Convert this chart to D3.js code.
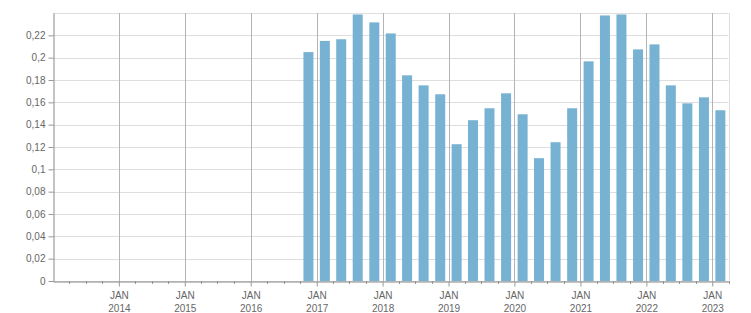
<!DOCTYPE html>
<html><head><meta charset="utf-8">
<script src="https://cdn.jsdelivr.net/npm/d3@7"></script>
<style>
html,body{margin:0;padding:0;background:#fff;}
svg{display:block;}
text{font-family:"Liberation Sans",Arial,sans-serif;font-size:10px;fill:#666;}
</style></head>
<body>
<svg id="chart" width="751" height="313"></svg>
<script>
// quarter start dates (YYYY-MM)
const quarters = ["2016-10","2017-01","2017-04","2017-07","2017-10","2018-01","2018-04","2018-07","2018-10",
  "2019-01","2019-04","2019-07","2019-10","2020-01","2020-04","2020-07","2020-10","2021-01","2021-04","2021-07",
  "2021-10","2022-01","2022-04","2022-07","2022-10","2023-01"];
const values = [0.205,0.215,0.2165,0.2387,0.2316,0.2217,0.1842,0.1752,0.1672,
  0.1225,0.144,0.1547,0.1681,0.1493,0.110,0.1243,0.1547,0.1967,0.2378,0.2387,
  0.2074,0.2119,0.1752,0.1591,0.1645,0.1529];
const yTicks = [0,0.02,0.04,0.06,0.08,0.1,0.12,0.14,0.16,0.18,0.2,0.22];
const xDomain = ["2013-01-01","2023-04-01"];
const yDomain = [0,0.24];

const parse = d3.timeParse("%Y-%m");
const data = quarters.map((q,i)=>({start:parse(q), end:d3.timeMonth.offset(parse(q),3), v:values[i]}));

const svg = d3.select("#chart");
const m = {l:53, r:751-728.5, t:13, b:313-281};
const W = 751, H = 313;
const x = d3.scaleTime().domain(xDomain.map(d=>new Date(d+"T00:00:00"))).range([m.l, W-m.r]);
const y = d3.scaleLinear().domain(yDomain).range([H-m.b, m.t]);
const fmt = v => String(+v.toFixed(2)).replace(".", ",");

// horizontal gridlines
svg.append("g").selectAll("line").data(yTicks.concat([0.24])).join("line")
  .attr("x1", m.l).attr("x2", W-m.r)
  .attr("y1", d=>Math.round(y(d))+0.5).attr("y2", d=>Math.round(y(d))+0.5)
  .attr("stroke", "#dedede").attr("stroke-width",1);
// right border
svg.append("line").attr("x1", Math.round(W-m.r)+0.5).attr("x2", Math.round(W-m.r)+0.5)
  .attr("y1", m.t).attr("y2", H-m.b).attr("stroke","#dedede");

// vertical year gridlines
const years = x.ticks(d3.timeYear.every(1)).filter(d=>x(d)>m.l+1);
svg.append("g").selectAll("line").data(years).join("line")
  .attr("x1", d=>Math.round(x(d))+0.5).attr("x2", d=>Math.round(x(d))+0.5)
  .attr("y1", m.t).attr("y2", H-m.b).attr("stroke","#b4b4b4");

// bars
const bw = 10;
svg.append("g").selectAll("rect").data(data).join("rect")
  .attr("x", d=>(x(d.start)+x(d.end))/2 - bw/2)
  .attr("width", bw)
  .attr("y", d=>y(d.v))
  .attr("height", d=>y(0)-y(d.v))
  .attr("fill", "#78b2d3");

// y axis
const ya = svg.append("g").attr("transform",`translate(${m.l+0.5},0)`)
  .call(d3.axisLeft(y).tickValues(yTicks).tickFormat(fmt).tickSize(5).tickSizeOuter(0).tickPadding(3));
ya.select(".domain").attr("stroke","#888");
ya.selectAll(".tick line").attr("stroke","#999");
ya.selectAll("text").attr("fill","#666").style("font-family","Liberation Sans, Arial, sans-serif").style("font-size","10px");

// x axis minor ticks (quarters)
const qticks = x.ticks(d3.timeMonth.every(3)).filter(d=>d.getMonth()!==0 && x(d)>m.l+1);
svg.append("g").selectAll("line").data(qticks).join("line")
  .attr("x1", d=>Math.round(x(d))+0.5).attr("x2", d=>Math.round(x(d))+0.5)
  .attr("y1", H-m.b).attr("y2", H-m.b+3).attr("stroke","#999");

// x axis
const xa = svg.append("g").attr("transform",`translate(0,${H-m.b+0.5})`)
  .call(d3.axisBottom(x).tickValues(years).tickSize(5).tickSizeOuter(0).tickFormat(""));
xa.select(".domain").attr("stroke","#888");
xa.selectAll(".tick line").attr("stroke","#999");
xa.selectAll(".tick").each(function(d){
  const g = d3.select(this);
  g.append("text").attr("y", 17).attr("text-anchor","middle").text("JAN");
  g.append("text").attr("y", 30).attr("text-anchor","middle").text(d3.timeFormat("%Y")(d));
});
</script>
</body></html>
